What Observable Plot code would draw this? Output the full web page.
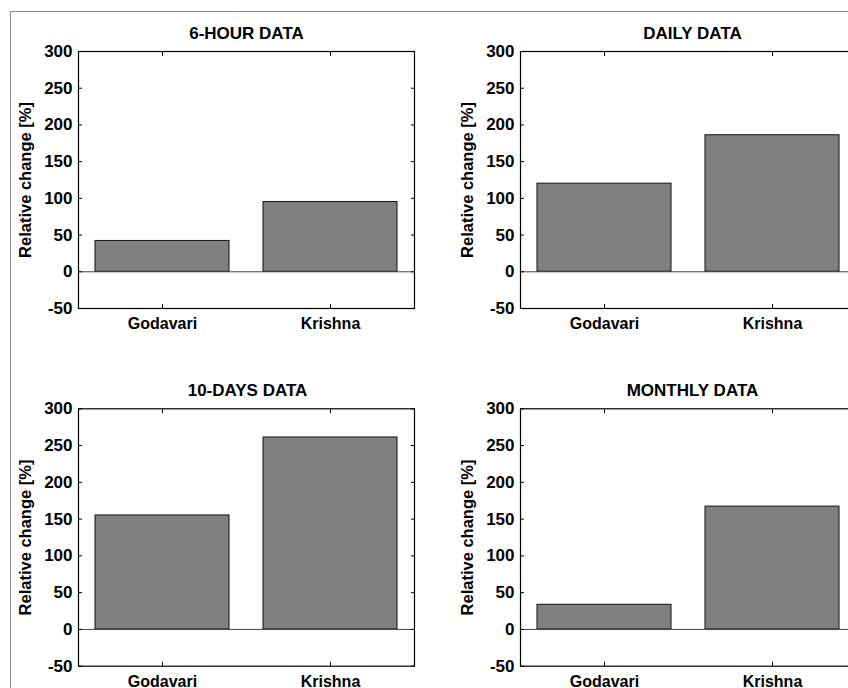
<!DOCTYPE html>
<html>
<head>
<meta charset="utf-8">
<script src="https://cdn.jsdelivr.net/npm/d3@7"></script>
<script src="https://cdn.jsdelivr.net/npm/@observablehq/plot@0.6"></script>
<style>
  html, body { margin: 0; padding: 0; background: #fff; }
  #fig { position: relative; width: 848px; height: 688px; overflow: hidden; background: #fff; }
  #frame { position: absolute; left: 10px; top: 11px; width: 900px; height: 800px; border-left: 1.5px solid #8a8a8a; border-top: 1.5px solid #8a8a8a; }
  .panel { position: absolute; }
</style>
</head>
<body>
<div id="fig"><div id="frame"></div></div>
<script>
const rivers = ["Godavari", "Krishna"];
const titles = ["6-HOUR DATA", "DAILY DATA", "10-DAYS DATA", "MONTHLY DATA"];
const sixHour = [42, 95];
const daily = [120, 186];
const tenDays = [155, 261];
const monthly = [33.5, 167];
const yTicks = [-50, 0, 50, 100, 150, 200, 250, 300];
const yLabel = "Relative change [%]";

const series = [sixHour, daily, tenDays, monthly];
const layouts = [
  {left: 0,   top: 0,   width: 424, height: 344, marginLeft: 78, marginRight: 10, marginTop: 51,   marginBottom: 36,   titleDx: 0},
  {left: 424, top: 0,   width: 440, height: 344, marginLeft: 96, marginRight: 8,  marginTop: 51,   marginBottom: 36,   titleDx: 4},
  {left: 0,   top: 344, width: 424, height: 360, marginLeft: 78, marginRight: 10, marginTop: 64.3, marginBottom: 38.3, titleDx: 1},
  {left: 424, top: 344, width: 440, height: 360, marginLeft: 96, marginRight: 8,  marginTop: 64.3, marginBottom: 38.3, titleDx: 4}
];

const font = "'Liberation Sans', Arial, Helvetica, sans-serif";
const fig = document.getElementById("fig");

series.forEach((vals, i) => {
  const L = layouts[i];
  const data = rivers.map((r, j) => ({river: r, value: vals[j]}));
  const chart = Plot.plot({
    width: L.width,
    height: L.height,
    marginLeft: L.marginLeft,
    marginRight: L.marginRight,
    marginTop: L.marginTop,
    marginBottom: L.marginBottom,
    style: {fontFamily: font, fontSize: "16px", fontWeight: "bold", color: "#000", background: "transparent", overflow: "visible"},
    x: {domain: rivers, paddingInner: 0.2, paddingOuter: 0.1, label: null},
    y: {domain: [-50, 300], label: null},
    marks: [
      Plot.barY(data, {x: "river", y: "value", fill: "#808080", stroke: "#111", strokeWidth: 1}),
      Plot.ruleY([0], {stroke: "#444", strokeWidth: 1}),
      Plot.frame({stroke: "#000", strokeWidth: 1.2}),
      Plot.axisY(yTicks, {anchor: "left", tickSize: 0, tickPadding: 6, label: null, fill: "#000", fontSize: 17, tickFormat: d => `${d}`}),
      Plot.axisY(yTicks, {anchor: "left", tickSize: -4, text: null, label: null, stroke: "#000"}),
      Plot.axisY(yTicks, {anchor: "right", tickSize: -4, text: null, label: null, stroke: "#000"}),
      Plot.axisX({anchor: "bottom", tickSize: 0, tickPadding: 9, label: null, fill: "#000", fontSize: 16}),
      Plot.axisX({anchor: "bottom", tickSize: -4, text: null, label: null, stroke: "#000"}),
      Plot.axisX({anchor: "top", tickSize: -4, text: null, label: null, stroke: "#000"}),
      Plot.text([titles[i]], {frameAnchor: "top", textAnchor: "middle", lineAnchor: "bottom", dy: -13, dx: L.titleDx, fontSize: 17, fontWeight: "bold", fill: "#000"}),
      Plot.text([yLabel], {frameAnchor: "left", textAnchor: "middle", rotate: -90, lineAnchor: "bottom", dx: -48, fontSize: 16.5, fontWeight: "bold", fill: "#000"})
    ]
  });
  chart.classList.add("panel");
  chart.style.left = L.left + "px";
  chart.style.top = L.top + "px";
  fig.appendChild(chart);
});
</script>
</body>
</html>
